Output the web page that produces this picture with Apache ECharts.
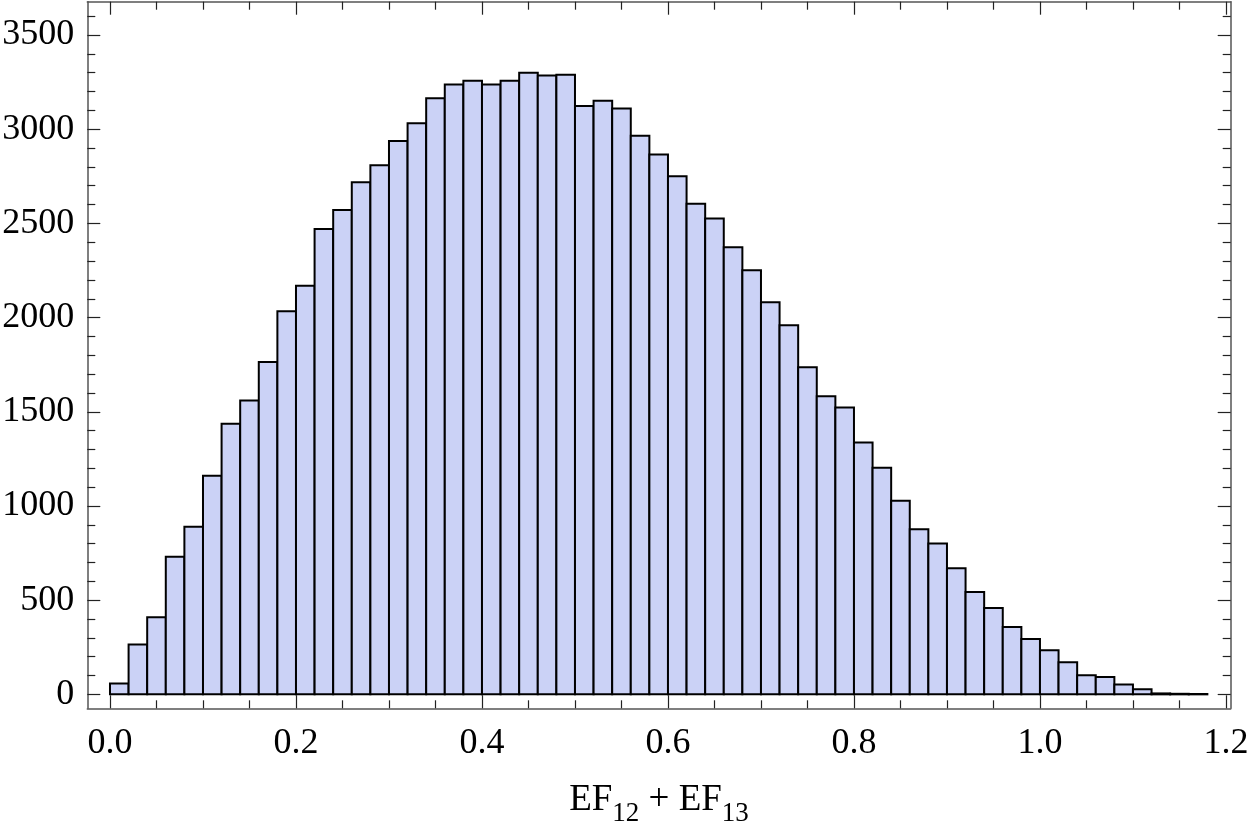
<!DOCTYPE html>
<html>
<head>
<meta charset="utf-8">
<title>EF12 + EF13 histogram</title>
<script src="https://cdn.jsdelivr.net/npm/echarts@6/dist/echarts.min.js"></script>
<style>
  html, body { margin: 0; padding: 0; background: #fff; }
  #chart { width: 1250px; height: 829px; }
</style>
</head>
<body>
<div id="chart"></div>
<script>
// histogram: bin width 0.02, first bin starts at 0.0
const binWidth = 0.02;
const counts = [
  58, 265, 409, 730, 890, 1160, 1436, 1560, 1765, 2034,
  2169, 2471, 2571, 2718, 2809, 2938, 3032, 3165, 3238, 3258,
  3238, 3257, 3300, 3285, 3289, 3123, 3151, 3110, 2965, 2866,
  2751, 2604, 2526, 2374, 2252, 2082, 1960, 1737, 1583, 1523,
  1337, 1203, 1028, 876, 801, 669, 543, 458, 357, 294,
  234, 171, 102, 92, 53, 27, 5, 3, 2
];
const xMajorTicks = [0, 0.2, 0.4, 0.6, 0.8, 1.0, 1.2];
const xMinorTicks = [0.05, 0.1, 0.15, 0.25, 0.3, 0.35, 0.45, 0.5, 0.55, 0.65, 0.7, 0.75,
                     0.85, 0.9, 0.95, 1.05, 1.1, 1.15];
const yMajorTicks = [0, 500, 1000, 1500, 2000, 2500, 3000, 3500];
const yMinorTicks = [100, 200, 300, 400, 600, 700, 800, 900, 1100, 1200, 1300, 1400,
                     1600, 1700, 1800, 1900, 2100, 2200, 2300, 2400, 2600, 2700, 2800, 2900,
                     3100, 3200, 3300, 3400, 3600];

// frame extents (plot range padded like the original)
const xMin = -0.0244, xMax = 1.2051;
const yMin = -74, yMax = 3677;

const bins = counts.map((c, i) => [i * binWidth, (i + 1) * binWidth, c]);

const font = '"Liberation Serif", "DejaVu Serif", serif';
const frameColor = '#555';
const tickColor = '#222';

function xAxisDef(position, ticks, len, withLine, withLabel) {
  return {
    type: 'value', position: position, gridIndex: 0,
    min: xMin, max: xMax,
    splitLine: { show: false },
    axisLine: { show: withLine, onZero: false, lineStyle: { color: frameColor, width: 1.5 } },
    axisTick: { show: true, inside: true, length: len, customValues: ticks,
                lineStyle: { color: tickColor, width: 1.2 } },
    axisLabel: withLabel ? {
      show: true, customValues: ticks, margin: 17,
      fontFamily: font, fontSize: 36, color: '#000',
      formatter: v => v.toFixed(1)
    } : { show: false }
  };
}

function yAxisDef(position, ticks, len, withLine, withLabel) {
  return {
    type: 'value', position: position, gridIndex: 0,
    min: yMin, max: yMax,
    splitLine: { show: false },
    axisLine: { show: withLine, onZero: false, lineStyle: { color: frameColor, width: 1.5 } },
    axisTick: { show: true, inside: true, length: len, customValues: ticks,
                lineStyle: { color: tickColor, width: 1.2 } },
    axisLabel: withLabel ? {
      show: true, customValues: ticks, margin: 13,
      fontFamily: font, fontSize: 36, color: '#000',
      formatter: v => String(Math.round(v))
    } : { show: false }
  };
}

const xBottom = xAxisDef('bottom', xMajorTicks, 13, true, true);
xBottom.name = '{m|EF}{s|12}{m| + EF}{s|13}';
xBottom.nameLocation = 'middle';
xBottom.nameGap = 73;
xBottom.nameTextStyle = {
  rich: {
    m: { fontFamily: font, fontSize: 37, color: '#000', lineHeight: 46, verticalAlign: 'top' },
    s: { fontFamily: font, fontSize: 27, color: '#000', lineHeight: 46, verticalAlign: 'bottom' }
  }
};

const option = {
  animation: false,
  backgroundColor: '#fff',
  grid: { left: 87.3, right: 19.3, top: 1.7, bottom: 120.7, containLabel: false, outerBoundsMode: 'none' },
  xAxis: [
    xBottom,
    xAxisDef('bottom', xMinorTicks, 8, false, false),
    xAxisDef('top', xMajorTicks, 13, true, false),
    xAxisDef('top', xMinorTicks, 8, false, false)
  ],
  yAxis: [
    yAxisDef('left', yMajorTicks, 13, true, true),
    yAxisDef('left', yMinorTicks, 8, false, false),
    yAxisDef('right', yMajorTicks, 13, true, false),
    yAxisDef('right', yMinorTicks, 8, false, false)
  ],
  series: [
    {
      type: 'custom',
      xAxisIndex: 0,
      yAxisIndex: 0,
      data: bins,
      renderItem(params, api) {
        const p0 = api.coord([api.value(0), 0]);
        const p1 = api.coord([api.value(1), api.value(2)]);
        return {
          type: 'rect',
          shape: { x: p0[0], y: p1[1], width: p1[0] - p0[0], height: p0[1] - p1[1] },
          style: { fill: '#CBD2F6', stroke: '#000', lineWidth: 2 }
        };
      }
    }
  ]
};

const chart = echarts.init(document.getElementById('chart'));
chart.setOption(option);
</script>
</body>
</html>
